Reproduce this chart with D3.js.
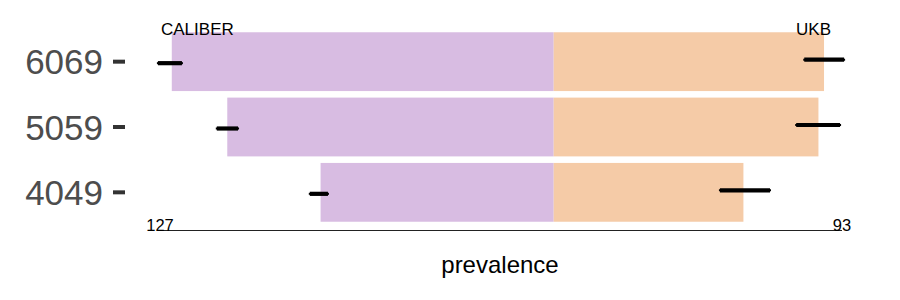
<!DOCTYPE html>
<html><head><meta charset="utf-8">
<script src="https://cdn.jsdelivr.net/npm/d3@7"></script>
<style>body{margin:0;background:#fff}svg{display:block}</style>
</head><body>
<svg id="c" width="900" height="300"></svg>
<script>
const ageGroups = ["6069", "5059", "4049"];
const caliberPrev = [123.2, 105.3, 75.2];
const ukbPrev = [87.2, 85.4, 61.2];
const caliberLo = [119.6, 101.5, 72.5];
const caliberHi = [128.0, 109.0, 79.0];
const ukbLo = [80.5, 77.9, 53.3];
const ukbHi = [94.0, 92.7, 70.1];
const leftMaxLabel = 127;
const rightMaxLabel = 93;
const sourceLabels = ["CALIBER", "UKB"];

const svg = d3.select("#c");
const font = "'Liberation Sans', Arial, Helvetica, sans-serif";
const k = 3.1, cx = 553.7;
const x = d3.scaleLinear().domain([-leftMaxLabel, rightMaxLabel])
  .range([cx - leftMaxLabel * k, cx + rightMaxLabel * k]);
const y = d3.scaleBand().domain(ageGroups).range([29, 225])
  .paddingInner(0.1).paddingOuter(0.05);

const purple = "#D8BCE2", orange = "#F5CBA7";

ageGroups.forEach((g, i) => {
  svg.append("rect").attr("x", x(-caliberPrev[i])).attr("y", y(g))
    .attr("width", x(0) - x(-caliberPrev[i])).attr("height", y.bandwidth())
    .attr("fill", purple);
  svg.append("rect").attr("x", x(0)).attr("y", y(g))
    .attr("width", x(ukbPrev[i]) - x(0)).attr("height", y.bandwidth())
    .attr("fill", orange);
});

function errbar(x1, x2, yy) {
  svg.append("line").attr("x1", x1 + 1).attr("x2", x2 - 1).attr("y1", yy).attr("y2", yy)
    .attr("stroke", "#000").attr("stroke-width", 4.2);
  svg.append("line").attr("x1", x1).attr("x2", x2).attr("y1", yy).attr("y2", yy)
    .attr("stroke", "#000").attr("stroke-width", 2);
}
ageGroups.forEach((g, i) => {
  const yc = y(g) + y.bandwidth() / 2;
  errbar(x(-caliberHi[i]), x(-caliberLo[i]), yc + 1.5);
  errbar(x(ukbLo[i]), x(ukbHi[i]), yc - 2);
});

// y axis
const yAxis = svg.append("g").attr("transform", "translate(125,0)")
  .call(d3.axisLeft(y).tickSize(12).tickPadding(10));
yAxis.select(".domain").remove();
yAxis.selectAll(".tick line").attr("stroke", "#333").attr("stroke-width", 4);
yAxis.selectAll(".tick text").attr("fill", "#4D4D4D").style("font-size", "35px")
  .style("font-family", font).attr("dy", "0.36em");

// x axis line and end labels
svg.append("line").attr("x1", x(-leftMaxLabel)).attr("x2", x(rightMaxLabel))
  .attr("y1", 230.5).attr("y2", 230.5).attr("stroke", "#222").attr("stroke-width", 1);
svg.append("text").attr("x", x(-leftMaxLabel)).attr("y", 231).attr("text-anchor", "middle")
  .style("font-family", font).style("font-size", "16.5px").attr("fill", "#000").text(leftMaxLabel);
svg.append("text").attr("x", x(rightMaxLabel)).attr("y", 231).attr("text-anchor", "middle")
  .style("font-family", font).style("font-size", "16.5px").attr("fill", "#000").text(rightMaxLabel);

svg.append("text").attr("x", 161).attr("y", 35).attr("text-anchor", "start")
  .style("font-family", font).style("font-size", "17px").attr("fill", "#000").text(sourceLabels[0]);
svg.append("text").attr("x", 831).attr("y", 35).attr("text-anchor", "end")
  .style("font-family", font).style("font-size", "17px").attr("fill", "#000").text(sourceLabels[1]);

svg.append("text").attr("x", 500).attr("y", 273).attr("text-anchor", "middle")
  .style("font-family", font).style("font-size", "24px").attr("fill", "#000").text("prevalence");
</script>
</body></html>
